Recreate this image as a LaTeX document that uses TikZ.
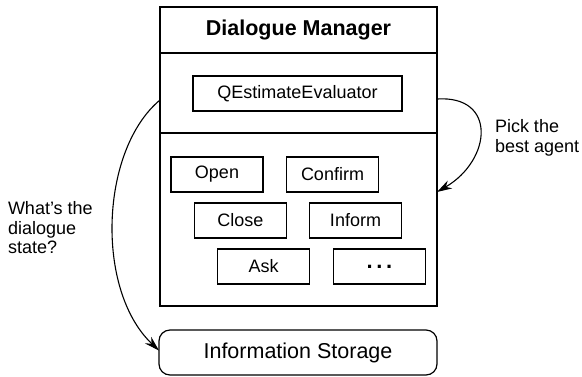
\documentclass[tikz,border=0pt]{standalone}
\usepackage{fontspec}
\setmainfont{Liberation Sans}
\usetikzlibrary{arrows.meta}
\begin{document}
\begin{tikzpicture}[x=1bp,y=-1bp,
  every node/.style={inner sep=0pt, outer sep=0pt},
  base/.style={font=\fontsize{18bp}{19.5bp}\selectfont},
  sect/.style={draw, line width=1.2bp, minimum width=277bp},
  agent/.style={base, draw, line width=1.2bp, minimum width=92bp, minimum height=35bp},
  conn/.style={line width=1.1bp, -{Stealth[length=15bp,width=9bp]}},
  lbl/.style={base, anchor=west, align=left}]
\useasboundingbox (0,0) rectangle (582,376);
\node[sect, minimum height=46bp, font=\fontsize{21.5bp}{23bp}\selectfont\bfseries] (dm) at (298.5,30) {Dialogue Manager};
\node[sect, minimum height=80bp] (sec2) at (298.5,93) {};
\node[sect, minimum height=173bp] (sec3) at (298.5,219.5) {};
\node[agent, minimum width=209bp] (eval) at (297.5,93.5) {QEstimateEvaluator};
\node[agent] (open) at (217,174.5) {Open};
\node[agent] (confirm) at (332.5,174.5) {Confirm};
\node[agent] (close) at (240.5,220.5) {Close};
\node[agent] (inform) at (355.5,220.5) {Inform};
\node[agent] (ask) at (263.5,266.5) {Ask};
\node[agent, font=\fontsize{22bp}{24bp}\selectfont\bfseries] (dots) at (379.5,266.5) {.\,.\,.};
\node[draw, line width=1.2bp, rounded corners=11bp, minimum width=278bp, minimum height=45bp,
  font=\fontsize{21.5bp}{23bp}\selectfont] (store) at (298,352.5) {Information Storage};
\draw[conn] ([yshift=-7bp]sec2.west) .. controls (100,150) and (95,290) .. ([yshift=2bp]store.west);
\draw[conn] ([yshift=-6bp]sec2.east) .. controls (497,95) and (492,160) .. ([yshift=27.5bp]sec3.east);
\node[lbl] (q) at (8,228) {What’s the\\dialogue\\state?};
\node[lbl] (p) at (495,138) {Pick the\\best agent};
\end{tikzpicture}
\end{document}
